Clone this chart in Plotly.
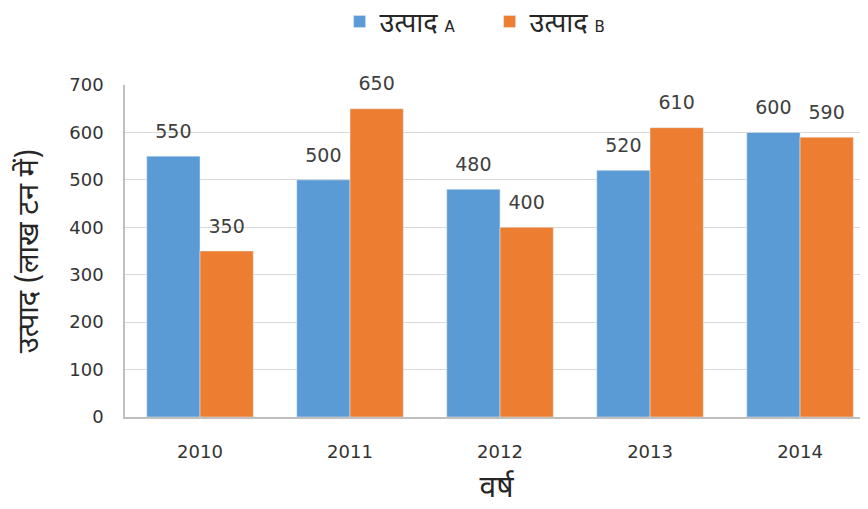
import plotly.graph_objects as go

years = ["2010", "2011", "2012", "2013", "2014"]
product_a = [550, 500, 480, 520, 600]
product_b = [350, 650, 400, 610, 590]
y_ticks = [0, 100, 200, 300, 400, 500, 600, 700]

blue = "#5B9BD5"
orange = "#ED7D31"
deva = "Noto Sans Devanagari, Noto Sans, sans-serif"
num_font = "DejaVu Sans, Verdana, sans-serif"

fig = go.Figure()
for name, vals, color, grp in [("A", product_a, blue, "a"), ("B", product_b, orange, "b")]:
    fig.add_trace(go.Bar(
        x=years, y=vals,
        name="उत्पाद <span style='font-size:15px;font-family:DejaVu Sans'>" + name + "</span>",
        marker_color=color, offsetgroup=grp, hoverinfo="skip",
    ))
for vals, grp in [(product_a, "a"), (product_b, "b")]:
    fig.add_trace(go.Scatter(
        x=years, y=vals, mode="markers+text", text=[str(v) for v in vals],
        textposition="top center", offsetgroup=grp,
        marker=dict(size=20, opacity=0), showlegend=False, hoverinfo="skip",
        textfont=dict(size=19, color="#404040", family=num_font),
        cliponaxis=False,
    ))

fig.update_layout(
    width=860, height=501,
    margin=dict(l=117, r=0, t=77, b=92),
    paper_bgcolor="white", plot_bgcolor="white",
    barmode="group", bargap=0.29, bargroupgap=0,
    scattermode="group", scattergap=0.29,
    font=dict(family=deva, color="#262626"),
    showlegend=True,
    legend=dict(orientation="h", xref="container", yref="container",
                x=0.56, xanchor="center", y=0.972, yanchor="middle",
                font=dict(size=27, color="#262626", family=deva),
                entrywidth=105, entrywidthmode="pixels",
                traceorder="normal"),
    xaxis=dict(
        range=[-0.5, 4.453],
        showline=True, linecolor="#bfbfbf", linewidth=1.5,
        ticks="", tickfont=dict(size=18, color="#333333", family=num_font),
        ticklabelstandoff=18, automargin=False,
        title=dict(text="वर्ष", font=dict(size=30, color="#262626"), standoff=16),
    ),
    yaxis=dict(
        range=[0, 700], tickvals=y_ticks,
        showline=True, linecolor="#bfbfbf", linewidth=1.5,
        showgrid=True, gridcolor="#d9d9d9", gridwidth=1,
        zeroline=False,
        ticks="", tickfont=dict(size=18, color="#333333", family=num_font),
        ticklabelstandoff=16, automargin=False,
        title=dict(text="उत्पाद (लाख टन में)", font=dict(size=29, color="#262626"), standoff=22),
    ),
)

fig.write_html("out.html")
